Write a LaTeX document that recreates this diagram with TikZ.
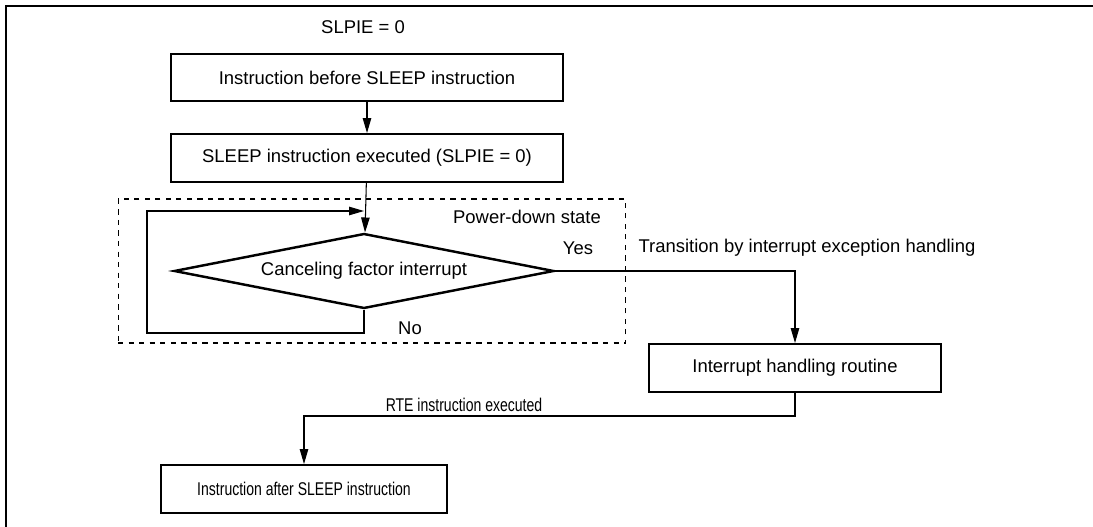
\documentclass[tikz,border=0pt]{standalone}
\usepackage{fontspec}
\setmainfont{Liberation Sans}
\usepackage{tikz}
\usetikzlibrary{arrows.meta,positioning,shapes.geometric}

\newcommand{\narrow}[1]{\scalebox{0.76}[1]{#1}}

\begin{document}
\begin{tikzpicture}[
    x=0.02cm, y=-0.02cm,
    font=\fontsize{10.5}{12.6}\selectfont,
    stepbox/.style={rectangle, draw=black, line width=1.4pt, inner sep=0pt,
                    minimum width=7.84cm, minimum height=0.95cm, align=center},
    decbox/.style={diamond, draw=black, line width=1.4pt, inner sep=0pt, aspect=5,
                   minimum width=7.6cm, minimum height=1.5cm},
    arr/.style={-{Triangle[length=0.3cm, width=0.17cm]}, line width=0.6pt},
    lbl/.style={inner sep=1pt}
]
\useasboundingbox (0,0) rectangle (1093,527);

% frame edges
\draw[line width=1.2pt] (6,527) -- (6,6) -- (1093,6);

% power-down area
\node[draw, dashed, line width=0.6pt, minimum width=10.16cm, minimum height=2.88cm,
      inner sep=0pt] (pd) at (372,271) {};
\node[lbl] (pdl) at (527,217) {Power-down state};

\node[lbl] (slp) at (363,27) {SLPIE = 0};
\node[stepbox] (b1) at (367,77.5) {Instruction before SLEEP instruction};
\node[stepbox] (b2) at (367,158) {SLEEP instruction executed (SLPIE = 0)};
\node[decbox] (d) at (364,271) {Canceling factor interrupt};
\node[stepbox, minimum width=5.84cm] (ih) at (795,368) {Interrupt handling routine};
\node[stepbox, minimum width=5.72cm] (b4) at (304,489) {\narrow{Instruction after SLEEP instruction}};

\coordinate (lpb) at (364,333);
\coordinate (lpt) at (364,211);

\draw[arr] (b1) -- (b2);
\draw[arr] (b2) -- (d);
% wait loop
\draw[arr] (d.south) -- (lpb) -- (147,333) -- (147,211) -- (lpt);
\node[lbl] (no) at (410,328) {No};
\node[lbl] (yes) at (578,248) {Yes};

\draw[arr] (d.east) -| (ih.north);
\node[lbl] (tr) at (807,248) {Transition by interrupt exception handling};

\draw[arr] (ih.south) -- ++(0,23) -| (b4.north);
\node[lbl] (rte) at (464,405) {\narrow{RTE instruction executed}};
\end{tikzpicture}
\end{document}
